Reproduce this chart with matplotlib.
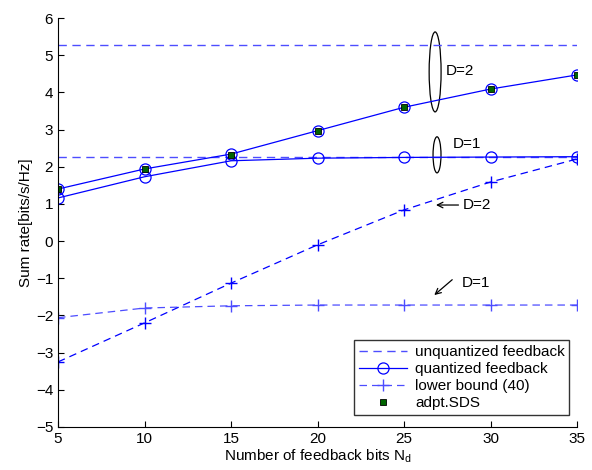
import numpy as np
import matplotlib
matplotlib.use("Agg")
import matplotlib.pyplot as plt
from matplotlib.patches import Ellipse

plt.rcParams['font.family'] = ['Liberation Sans', 'DejaVu Sans']
plt.rcParams['mathtext.fontset'] = 'custom'
plt.rcParams['mathtext.rm'] = 'Liberation Sans'
plt.rcParams['mathtext.it'] = 'Liberation Sans'

# ---- data ----
Nd = [5, 10, 15, 20, 25, 30, 35]

unq_D1 = 2.27
unq_D2 = 5.28

quant_D1 = [1.16, 1.73, 2.16, 2.23, 2.25, 2.26, 2.27]
quant_D2 = [1.40, 1.94, 2.34, 2.97, 3.60, 4.09, 4.47]
adpt_sds = [1.40, 1.94, 2.32, 2.97, 3.60, 4.09, 4.47]

lb_D1 = [-2.06, -1.80, -1.74, -1.72, -1.72, -1.72, -1.72]
lb_D2 = [-3.25, -2.20, -1.13, -0.10, 0.84, 1.59, 2.21]

blue = '#0000ff'
lblue = '#4d4dff'
fs = 11

fig = plt.figure(figsize=(5.92, 4.70), dpi=100)
ax = fig.add_axes([0.098, 0.0915, 0.877, 0.8702])

# unquantized
ax.plot([Nd[0], Nd[-1]], [unq_D2, unq_D2], '--', color=lblue, lw=1.0,
        dashes=(6, 4), label='unquantized feedback')
ax.plot([Nd[0], Nd[-1]], [unq_D1, unq_D1], '--', color=lblue, lw=1.0,
        dashes=(6, 4))

# quantized
ax.plot(Nd, quant_D1, '-o', color=blue, lw=0.9, ms=8, mfc='none',
        mec=blue, mew=0.9, label='quantized feedback')
ax.plot(Nd, quant_D2, '-o', color=blue, lw=0.9, ms=8, mfc='none',
        mec=blue, mew=0.9)

# lower bound
ax.plot(Nd, lb_D1, '--+', color=lblue, lw=0.9, ms=9, mew=1.0,
        dashes=(6, 4), label='lower bound (40)')
ax.plot(Nd, lb_D2, '--+', color=blue, lw=0.9, ms=9, mew=1.0,
        dashes=(6, 4))

# adpt.SDS
ax.plot(Nd, adpt_sds, 's', color='#006400', ms=4.5, mec='k', mew=0.6,
        label='adpt.SDS')

# annotations
ax.add_patch(Ellipse((26.79, 4.55), 0.69, 2.15, fill=False, ec='k', lw=0.9))
ax.text(27.4, 4.57, 'D=2', fontsize=fs, va='center', ha='left')
ax.add_patch(Ellipse((26.9, 2.32), 0.46, 0.97, fill=False, ec='k', lw=0.9))
ax.text(27.8, 2.61, 'D=1', fontsize=fs, va='center', ha='left')

ax.annotate('', xy=(26.68, 0.97), xytext=(28.3, 0.97),
            arrowprops=dict(arrowstyle='->', color='k', lw=0.9))
ax.text(28.4, 0.97, 'D=2', fontsize=fs, va='center', ha='left')
ax.annotate('', xy=(26.62, -1.50), xytext=(27.9, -0.99),
            arrowprops=dict(arrowstyle='->', color='k', lw=0.9))
ax.text(28.35, -1.13, 'D=1', fontsize=fs, va='center', ha='left')

ax.set_xlim(5, 35)
ax.set_ylim(-5, 6)
ax.set_xticks(Nd)
ax.set_yticks(range(-5, 7))
ax.set_yticklabels([str(v).replace('-', '\u2212') for v in range(-5, 7)])
ax.tick_params(direction='in', labelsize=fs, length=4)
ax.spines['top'].set_visible(False)
ax.spines['right'].set_visible(False)

ax.set_xlabel('Number of feedback bits N$_d$', fontsize=fs, labelpad=1)
ax.set_ylabel('Sum rate[bits/s/Hz]', fontsize=fs, labelpad=2)

leg = ax.legend(loc='lower right', fontsize=fs, frameon=True, fancybox=False,
                edgecolor='k', borderpad=0.3, labelspacing=0.2,
                handlelength=3.2, handletextpad=0.5, borderaxespad=0,
                bbox_to_anchor=(0.985, 0.03))
leg.get_frame().set_linewidth(1.0)

fig.savefig('out.png', dpi=100)
